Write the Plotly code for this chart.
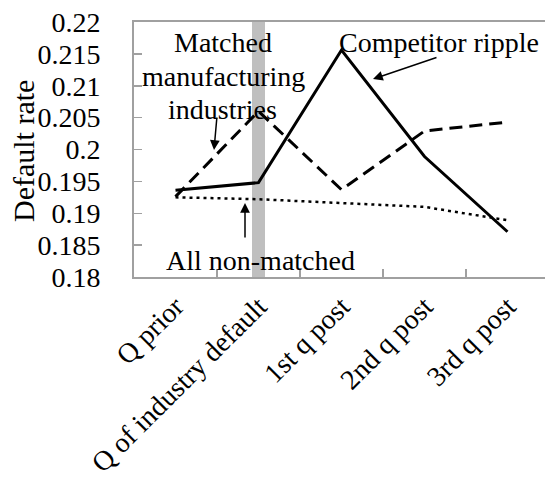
import plotly.graph_objects as go

categories = ["Q prior", "Q of industry default", "1st q post", "2nd q post", "3rd q post"]
competitor_ripple = [0.1936, 0.1948, 0.2156, 0.1989, 0.1871]
matched_manufacturing = [0.1926, 0.2060, 0.1937, 0.2029, 0.2043]
all_non_matched = [0.1925, 0.1922, 0.1916, 0.1910, 0.1889]
event_category = ["Q of industry default"]
event_height = [0.22]
y_ticks = [0.18, 0.185, 0.19, 0.195, 0.2, 0.205, 0.21, 0.215, 0.22]
y_tick_labels = ["0.18", "0.185", "0.19", "0.195", "0.2", "0.205", "0.21", "0.215", "0.22"]

FONT = "Liberation Serif, Times New Roman, serif"
AX = "#a0a0a0"

fig = go.Figure()
fig.add_trace(go.Bar(x=event_category, y=event_height, width=0.16,
                     marker=dict(color="#bfbfbf", line=dict(width=0)), showlegend=False))
fig.add_trace(go.Scatter(x=categories, y=matched_manufacturing, mode="lines",
                         line=dict(color="black", width=3, dash="13px,7px"), showlegend=False))
fig.add_trace(go.Scatter(x=categories, y=all_non_matched, mode="lines",
                         line=dict(color="black", width=2.5, dash="3px,4px"), showlegend=False))
fig.add_trace(go.Scatter(x=categories, y=competitor_ripple, mode="lines",
                         line=dict(color="black", width=3), showlegend=False))

ann = []
def txt(x, y, s, size=28, angle=0):
    ann.append(dict(xref="paper", yref="paper", x=x, y=y, text=s, showarrow=False,
                    font=dict(family=FONT, size=size, color="black"), textangle=angle,
                    xanchor="center", yanchor="middle"))

# pixel helpers: plot area x 134..545, y 22..277
L, R, T, B = 134, 545, 22, 277
def px(x): return (x - L) / (R - L)
def py(y): return (B - y) / (B - T)

txt(px(223), py(42), "Matched")
txt(px(223), py(76), "manufacturing")
txt(px(222), py(109), "industries")
txt(px(439), py(42), "Competitor ripple")
txt(px(260), py(260), "All non-matched")
txt(px(23), py(151), "Default rate", size=30, angle=-90)

def arrow(x0, y0, x1, y1):
    ann.append(dict(xref="paper", yref="paper", x=px(x1), y=py(y1),
                    axref="pixel", ayref="pixel", ax=x0 - x1, ay=y0 - y1,
                    text="", showarrow=True, arrowhead=2, arrowsize=1.3,
                    arrowwidth=1.5, arrowcolor="black"))

arrow(217, 116, 214, 150)
arrow(438, 57, 373, 79)
arrow(245, 239, 245, 203)

fig.update_layout(
    width=545, height=482,
    margin=dict(l=L, r=0, t=T, b=482 - B, pad=0),
    paper_bgcolor="white", plot_bgcolor="white",
    font=dict(family=FONT, size=28, color="black"),
    annotations=ann, bargap=0, hovermode=False,
)
fig.update_xaxes(type="category", categoryorder="array", categoryarray=categories,
                 range=[-0.5, 4.452], showgrid=False, showline=True, linecolor=AX,
                 linewidth=2, mirror=True, ticks="inside", tickson="boundaries",
                 ticklen=8, tickwidth=1.5, tickcolor=AX, tickangle=-45,
                 tickfont=dict(family=FONT, size=28, color="black"), automargin=False)
fig.update_yaxes(range=[0.18, 0.22], tickvals=y_ticks, ticktext=y_tick_labels,
                 showgrid=False, showline=True, linecolor=AX, linewidth=2,
                 ticks="inside", ticklen=8, tickwidth=1.5, tickcolor=AX,
                 ticklabelposition="outside", ticklabelstandoff=26, zeroline=False,
                 tickfont=dict(family=FONT, size=28, color="black"),
                 automargin=False)

fig.write_html("out.html", config={"displayModeBar": False, "staticPlot": True},
               post_script="document.body.style.margin='0px';")
